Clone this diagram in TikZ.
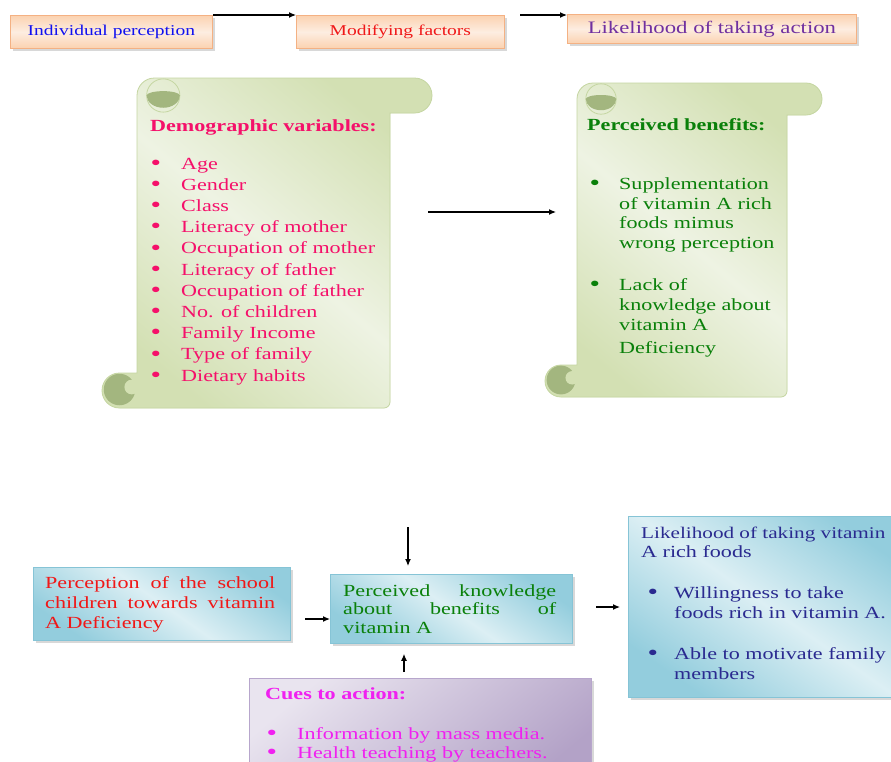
\documentclass[tikz,border=0pt]{standalone}
\usepackage{fontspec}
\setmainfont{Liberation Serif}[FakeStretch=1.3]
\usetikzlibrary{arrows.meta,shadows}

\definecolor{peachlt}{HTML}{FDEDE1}
\definecolor{peachdk}{HTML}{FBD2B0}
\definecolor{peachln}{HTML}{F4B183}
\definecolor{teallt}{HTML}{DCEFF4}
\definecolor{tealdk}{HTML}{93CDDD}
\definecolor{tealln}{HTML}{86C4D6}
\definecolor{purlt}{HTML}{E9E4EF}
\definecolor{purdk}{HTML}{B3A2C7}
\definecolor{purln}{HTML}{B7A6CC}
\definecolor{scrlt}{HTML}{EEF3E3}
\definecolor{scrdk}{HTML}{D3E0B3}
\definecolor{scrln}{HTML}{C5D6A2}
\definecolor{scrroll}{HTML}{A3B67F}
\definecolor{txblue}{HTML}{1010F0}
\definecolor{txred}{HTML}{F01818}
\definecolor{txpurple}{HTML}{7030A0}
\definecolor{txpink}{HTML}{F5106A}
\definecolor{txgreen}{HTML}{0A800A}
\definecolor{txnavy}{HTML}{2A2A90}
\definecolor{txmag}{HTML}{F020F0}

% bullet hung to the left of the text start
\newcommand{\itemdot}[1][20pt]{\llap{\smash{\raisebox{-1.2pt}{\fontsize{23}{20}\selectfont\textbullet}}\hspace{#1}}}

% scroll: left, top, body right, bar right, bottom, roll radius
\newcommand{\vscroll}[6]{%
  \def\rr{#6}
  \filldraw[scrln, line width=.8pt, left color=scrdk, right color=scrdk, middle color=scrlt, shading angle=-40]
    (#1,#5-2*\rr) -- (#1,#2+\rr) arc[start angle=180,end angle=270,radius=\rr]
    -- (#4-\rr,#2) arc[start angle=-90,end angle=90,radius=\rr]
    -- (#3,#2+2*\rr) -- (#3,#5-6) arc[start angle=0,end angle=90,radius=6]
    -- (#1-\rr,#5) arc[start angle=90,end angle=270,radius=\rr] -- cycle;
  % top curl
  \draw[scrln, line width=.8pt] (#1+1.5*\rr,#2+\rr) circle[radius=0.95*\rr];
  \fill[scrroll] (#1+0.55*\rr,#2+\rr) arc[start angle=180,end angle=0,x radius=0.95*\rr,y radius=0.7*\rr]
    arc[start angle=0,end angle=-180,x radius=0.95*\rr,y radius=0.25*\rr] -- cycle;
  % bottom curl
  \fill[scrroll] (#1-\rr,#5-\rr-1) circle[radius=0.9*\rr];
  \fill[scrdk] (#1-0.3*\rr,#5-1.2*\rr) circle[radius=0.42*\rr];
}

\tikzset{
  boxbase/.style={anchor=north west, inner sep=0pt, line width=.8pt,
    drop shadow={shadow xshift=2.5pt, shadow yshift=-2.5pt, fill=black!30}},
  peachbox/.style={boxbase, draw=peachln, top color=peachdk, bottom color=peachdk, middle color=peachlt},
  tealbox/.style={boxbase, draw=tealln, left color=tealdk, right color=tealdk, middle color=teallt, shading angle=-35},
  purbox/.style={boxbase, draw=purln, left color=purlt, right color=purdk, shading angle=40},
  bodytext/.style={anchor=base west, inner sep=0pt, font=\fontsize{17}{20}\selectfont},
  titletext/.style={anchor=base west, inner sep=0pt, font=\bfseries\fontsize{17}{20}\selectfont},
  link/.style={-{Latex[length=7pt,width=6pt]}, line width=1.2pt},
}

\begin{document}
\begin{tikzpicture}[x=1pt,y=-1pt]
\useasboundingbox (0,0) rectangle (891,761);
\fill[white] (0,0) rectangle (891,761);
\clip (0,0) rectangle (891,761);

% scrolls
\vscroll{137}{78}{390}{432}{408}{17.5}
\vscroll{577}{83}{787}{822}{397}{16}

% top row
\node[peachbox, minimum width=202pt, minimum height=33pt, text=txblue, font=\fontsize{15}{18}\selectfont] (ip) at (10,15) {Individual perception};
\node[peachbox, minimum width=208pt, minimum height=33pt, text=txred, font=\fontsize{15}{18}\selectfont] (mf) at (296,15) {Modifying factors};
\node[peachbox, minimum width=289pt, minimum height=29pt, text=txpurple, font=\fontsize{17.5}{20}\selectfont] (lta) at (567,14) {Likelihood of taking action};

% demographic variables
\node[titletext, text=txpink] (demo) at (150,131) {Demographic variables:};
\foreach \t [count=\i] in {Age,Gender,Class,Literacy of mother,Occupation of mother,Literacy of father,Occupation of father,No. of children,Family Income,Type of family,Dietary habits}
  \node[bodytext, text=txpink] (d\i) at (181,{169+21.2*(\i-1)}) {\itemdot[20pt]\t};

% perceived benefits
\node[titletext, text=txgreen] (pb) at (587,130) {Perceived benefits:};
\foreach \y/\t [count=\i] in {189/\itemdot[19pt]Supplementation,209/of vitamin A rich,228/foods mimus,248/wrong perception,290/\itemdot[19pt]Lack of,310/knowledge about,330/vitamin A,353/Deficiency}
  \node[bodytext, text=txgreen] (b\i) at (619,\y) {\t};

% bottom boxes
\node[tealbox, minimum width=257pt, minimum height=73pt] (ps) at (33,567) {};
\node[tealbox, minimum width=242pt, minimum height=69pt] (pk) at (330,574) {};
\node[tealbox, minimum width=280pt, minimum height=181pt] (lk) at (628,516) {};
\node[purbox, minimum width=342pt, minimum height=110pt] (cues) at (249,678) {};

\node[bodytext, text=txred] (ps1) at (45,588) {\makebox[230pt][s]{Perception of the school}};
\node[bodytext, text=txred] (ps2) at (45,608) {\makebox[230pt][s]{children towards vitamin}};
\node[bodytext, text=txred] (ps3) at (45,628) {A Deficiency};

\node[bodytext, text=txgreen] (pk1) at (343,596) {\makebox[213pt][s]{Perceived knowledge}};
\node[bodytext, text=txgreen] (pk2) at (343,614) {\makebox[213pt][s]{about benefits of}};
\node[bodytext, text=txgreen] (pk3) at (343,633) {vitamin A};

\node[bodytext, text=txnavy, font=\fontsize{16.3}{20}\selectfont] (lk1) at (641,538) {Likelihood of taking vitamin};
\foreach \x/\y/\t [count=\i from 2] in {641/557/A rich foods,674/598/\itemdot[16pt]Willingness to take,674/618/foods rich in vitamin A.,674/659/\itemdot[16pt]Able to motivate family,674/679/members}
  \node[bodytext, text=txnavy] (lk\i) at (\x,\y) {\t};

\node[titletext, text=txmag] (cu0) at (265,699) {Cues to action:};
\node[bodytext, text=txmag] (cu1) at (297,739) {\itemdot[20pt]Information by mass media.};
\node[bodytext, text=txmag] (cu2) at (297,758) {\itemdot[20pt]Health teaching by teachers.};

% connectors
\draw[link] (ip.north east) -- (mf.north west);
\coordinate (a2) at (520,15);
\draw[link] (a2) -- (a2 -| lta.west);
\coordinate (s1) at (428,212);
\coordinate (s2) at (556,212);
\draw[link] (s1) -- (s2);
\coordinate (dk) at (408,527);
\draw[link, shorten >=8pt] (dk) -- (dk |- pk.north);
\coordinate (pa) at (305,619);
\draw[link] (pa) -- (pa -| pk.west);
\coordinate (cu) at (404,672);
\draw[link, shorten >=10pt] (cu) -- (cu |- pk.south);
\coordinate (ka) at (596,607);
\draw[link, shorten >=8pt] (ka) -- (ka -| lk.west);
\end{tikzpicture}
\end{document}
